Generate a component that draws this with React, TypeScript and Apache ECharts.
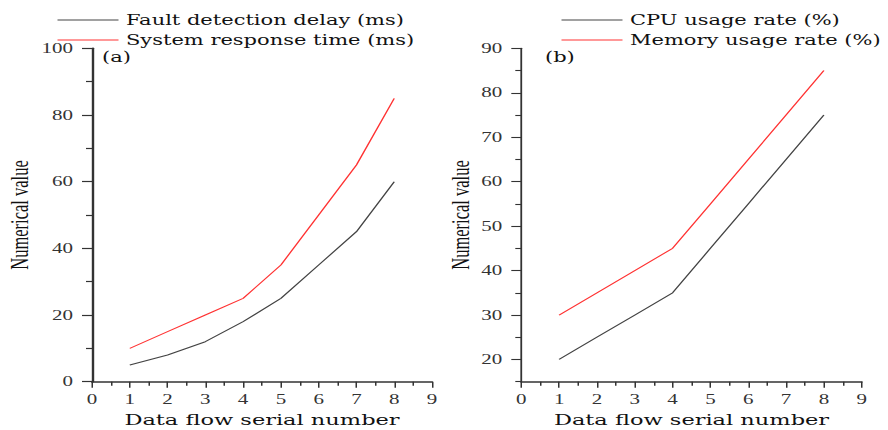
import React, { useEffect, useRef } from "react";
import * as echarts from "echarts";

const xTicks = [0, 1, 2, 3, 4, 5, 6, 7, 8, 9];
const flowIds = [1, 2, 3, 4, 5, 6, 7, 8];
const faultDelay = [5, 8, 12, 18, 25, 35, 45, 60];
const responseTime = [10, 15, 20, 25, 35, 50, 65, 85];
const cpuUsage = [20, 25, 30, 35, 45, 55, 65, 75];
const memUsage = [30, 35, 40, 45, 55, 65, 75, 85];
const rightMajorTicks = [20, 30, 40, 50, 60, 70, 80, 90];
const rightMinorTicks = [15, 25, 35, 45, 55, 65, 75, 85];

const pair = (ys: number[]) => flowIds.map((x, i) => [x, ys[i]]);

// The reference figure is stretched horizontally; render at a narrower width and stretch.
const S = 1.5;
const W = 888 / S;
const H = 430;

const AXIS = "#333";
const TICK_FONT = "Liberation Serif";
const LABEL_FONT = "DejaVu Serif";
const BLACK_LINE = "#444";
const RED_LINE = "#ff3333";

export default function App() {
  const ref = useRef<HTMLDivElement>(null);
  useEffect(() => {
    if (!ref.current) return;
    const chart = echarts.init(ref.current, null, { renderer: "svg", width: W, height: H });
    const xAxisBase = (gridIndex: number) => ({
      type: "value",
      gridIndex,
      min: xTicks[0],
      max: xTicks[xTicks.length - 1],
      interval: 1,
      name: "Data flow serial number",
      nameLocation: "middle",
      nameGap: 31,
      nameTextStyle: { fontFamily: LABEL_FONT, fontSize: 15, color: "#111" },
      axisLine: { show: true, lineStyle: { color: AXIS, width: 1.5 } },
      axisTick: { show: true, length: 6, lineStyle: { color: AXIS, width: 1 } },
      minorTick: { show: true, splitNumber: 2, length: 4, lineStyle: { color: AXIS, width: 1 } },
      axisLabel: { margin: 11, fontFamily: TICK_FONT, fontSize: 14, color: "#333" },
      splitLine: { show: false },
    });
    const legendBase = (names: string[], left: number) => ({
      data: names.map((n) => ({ name: n, icon: "rect" })),
      orient: "vertical",
      left,
      top: 5,
      itemWidth: 61 / S,
      itemHeight: 1,
      itemGap: 0,
      textStyle: { fontFamily: LABEL_FONT, fontSize: 14, color: "#111", lineHeight: 20 },
    });
    const option = {
      animation: false,
      backgroundColor: "#fff",
      grid: [
        { left: 92 / S, right: W - 432 / S, top: 48.3, bottom: H - 381.7, containLabel: false, outerBoundsMode: "none" },
        { left: 521.3 / S, right: W - 861.7 / S, top: 48.3, bottom: H - 381.7, containLabel: false, outerBoundsMode: "none" },
      ],
      legend: [
        legendBase(["Fault detection delay (ms)", "System response time (ms)"], 50 / S),
        legendBase(["CPU usage rate (%)", "Memory usage rate (%)"], 554 / S),
      ],
      xAxis: [xAxisBase(0), xAxisBase(1)],
      yAxis: [
        {
          type: "value",
          gridIndex: 0,
          position: "left",
          min: 0,
          max: 100,
          interval: 20,
          axisLine: { show: true, lineStyle: { color: AXIS, width: 1.6 } },
          axisTick: { show: true, length: 10 / S, lineStyle: { color: AXIS, width: 1.2 } },
          minorTick: { show: true, splitNumber: 2, length: 6 / S, lineStyle: { color: AXIS, width: 1.2 } },
          axisLabel: { margin: 19 / S, fontFamily: TICK_FONT, fontSize: 14, color: "#333" },
          splitLine: { show: false },
        },
        {
          type: "value",
          gridIndex: 1,
          position: "left",
          min: 15,
          max: 90,
          axisLine: { show: true, lineStyle: { color: AXIS, width: 1.2 } },
          axisTick: { show: true, length: 10 / S, customValues: rightMajorTicks, lineStyle: { color: AXIS, width: 1.1 } },
          axisLabel: { margin: 19 / S, customValues: rightMajorTicks, fontFamily: TICK_FONT, fontSize: 14, color: "#333" },
          splitLine: { show: false },
        },
        {
          type: "value",
          gridIndex: 1,
          position: "left",
          min: 15,
          max: 90,
          axisLine: { show: false },
          axisTick: { show: true, length: 6 / S, customValues: rightMinorTicks, lineStyle: { color: AXIS, width: 1.1 } },
          axisLabel: { show: false },
          splitLine: { show: false },
        },
      ],
      graphic: [
        {
          type: "text",
          x: 102 / S,
          y: 57,
          style: { text: "(a)", fontFamily: LABEL_FONT, fontSize: 14, fill: "#111", verticalAlign: "middle" },
        },
        {
          type: "text",
          x: 545 / S,
          y: 57,
          style: { text: "(b)", fontFamily: LABEL_FONT, fontSize: 14, fill: "#111", verticalAlign: "middle" },
        },
        {
          type: "text",
          x: 20 / S,
          y: 215,
          rotation: Math.PI / 2,
          style: { text: "Numerical value", fontFamily: "Liberation Serif", fontSize: 16.5, fill: "#111", align: "center", verticalAlign: "middle" },
        },
        {
          type: "text",
          x: 461 / S,
          y: 215,
          rotation: Math.PI / 2,
          style: { text: "Numerical value", fontFamily: "Liberation Serif", fontSize: 16.5, fill: "#111", align: "center", verticalAlign: "middle" },
        },
      ],
      series: [
        {
          name: "Fault detection delay (ms)",
          type: "line",
          xAxisIndex: 0,
          yAxisIndex: 0,
          data: pair(faultDelay),
          symbol: "none",
          lineStyle: { color: BLACK_LINE, width: 1 },
          itemStyle: { color: BLACK_LINE },
        },
        {
          name: "System response time (ms)",
          type: "line",
          xAxisIndex: 0,
          yAxisIndex: 0,
          data: pair(responseTime),
          symbol: "none",
          lineStyle: { color: RED_LINE, width: 1 },
          itemStyle: { color: RED_LINE },
        },
        {
          name: "CPU usage rate (%)",
          type: "line",
          xAxisIndex: 1,
          yAxisIndex: 1,
          data: pair(cpuUsage),
          symbol: "none",
          lineStyle: { color: BLACK_LINE, width: 1 },
          itemStyle: { color: BLACK_LINE },
        },
        {
          name: "Memory usage rate (%)",
          type: "line",
          xAxisIndex: 1,
          yAxisIndex: 1,
          data: pair(memUsage),
          symbol: "none",
          lineStyle: { color: RED_LINE, width: 1 },
          itemStyle: { color: RED_LINE },
        },
      ],
    };
    chart.setOption(option as any);
    return () => chart.dispose();
  }, []);
  return (
    <div
      ref={ref}
      style={{
        position: "fixed",
        left: 0,
        top: 0,
        width: W,
        height: H,
        transform: `scaleX(${S})`,
        transformOrigin: "0 0",
      }}
    />
  );
}
